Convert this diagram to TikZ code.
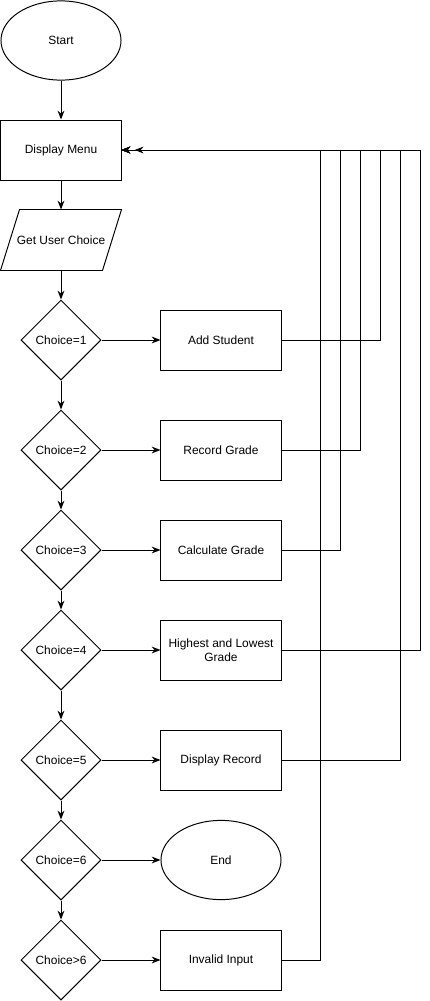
\documentclass[tikz,border=0pt]{standalone}
\usepackage{fontspec}
\setmainfont{Liberation Sans}
\usetikzlibrary{shapes.geometric,arrows.meta}

\tikzset{
  box/.style={draw,minimum height=1.5cm,minimum width=3cm,align=center,inner sep=1pt},
  term/.style={draw,ellipse,minimum height=1.98cm,minimum width=3cm},
  io/.style={minimum height=1.5cm,minimum width=3cm},
  test/.style={draw,diamond,aspect=1,inner sep=0pt,minimum size=2cm},
  flow/.style={-{Stealth[length=2.2mm,width=1.7mm]}},
}

\begin{document}
\begin{tikzpicture}[x=0.025cm,y=-0.025cm,line width=0.7pt,font=\fontsize{8.5}{10}\selectfont]
  \useasboundingbox (0,0) rectangle (429,1001);

  \node[term] (start) at (61,40.5) {Start};
  \node[box]  (menu)  at (61,150)  {Display Menu};
  \node[io]   (input) at (61,240)  {Get User Choice};
  \draw (input.south west) -- ([xshift=0.475cm]input.north west) -- (input.north east) -- ([xshift=-0.475cm]input.south east) -- cycle;

  \node[test] (c1) at (61,340) {Choice=1};
  \node[test] (c2) at (61,450) {Choice=2};
  \node[test] (c3) at (61,550) {Choice=3};
  \node[test] (c4) at (61,650) {Choice=4};
  \node[test] (c5) at (61,760) {Choice=5};
  \node[test] (c6) at (61,860) {Choice=6};
  \node[test] (c7) at (61,960) {Choice>6};

  \node[box]  (add)     at (221,340) {Add Student};
  \node[box]  (record)  at (221,450) {Record Grade};
  \node[box]  (calc)    at (221,550) {Calculate Grade};
  \node[box]  (highlow) at (221,650) {Highest and Lowest\\Grade};
  \node[box]  (show)    at (221,760) {Display Record};
  \node[term] (end)     at (221,860) {End};
  \node[box]  (invalid) at (221,960) {Invalid Input};

  \coordinate (b1) at (380,150);
  \coordinate (b2) at (360,150);
  \coordinate (b3) at (340,150);
  \coordinate (b4) at (420,150);
  \coordinate (b5) at (400,150);
  \coordinate (b7) at (320,150);

  \draw[flow] (start) -- (menu);
  \draw[flow] (menu) -- (input);
  \draw[flow] (input) -- (c1);
  \draw[flow] (c1) -- (c2);
  \draw[flow] (c2) -- (c3);
  \draw[flow] (c3) -- (c4);
  \draw[flow] (c4) -- (c5);
  \draw[flow] (c5) -- (c6);
  \draw[flow] (c6) -- (c7);

  \draw[flow] (c1) -- (add);
  \draw[flow] (c2) -- (record);
  \draw[flow] (c3) -- (calc);
  \draw[flow] (c4) -- (highlow);
  \draw[flow] (c5) -- (show);
  \draw[flow] (c6) -- (end);
  \draw[flow] (c7) -- (invalid);

  \draw[flow] (add.east) -| (b1) -- (menu.east);
  \draw[flow] (record.east) -| (b2) -- (menu.east);
  \draw[flow] (calc.east) -| (b3) -- (menu.east);
  \draw[flow,shorten >=0.33cm] (highlow.east) -| (b4) -- (menu.east);
  \draw[flow] (show.east) -| (b5) -- (menu.east);
  \draw[flow] (invalid.east) -| (b7) -- (menu.east);
\end{tikzpicture}
\end{document}
